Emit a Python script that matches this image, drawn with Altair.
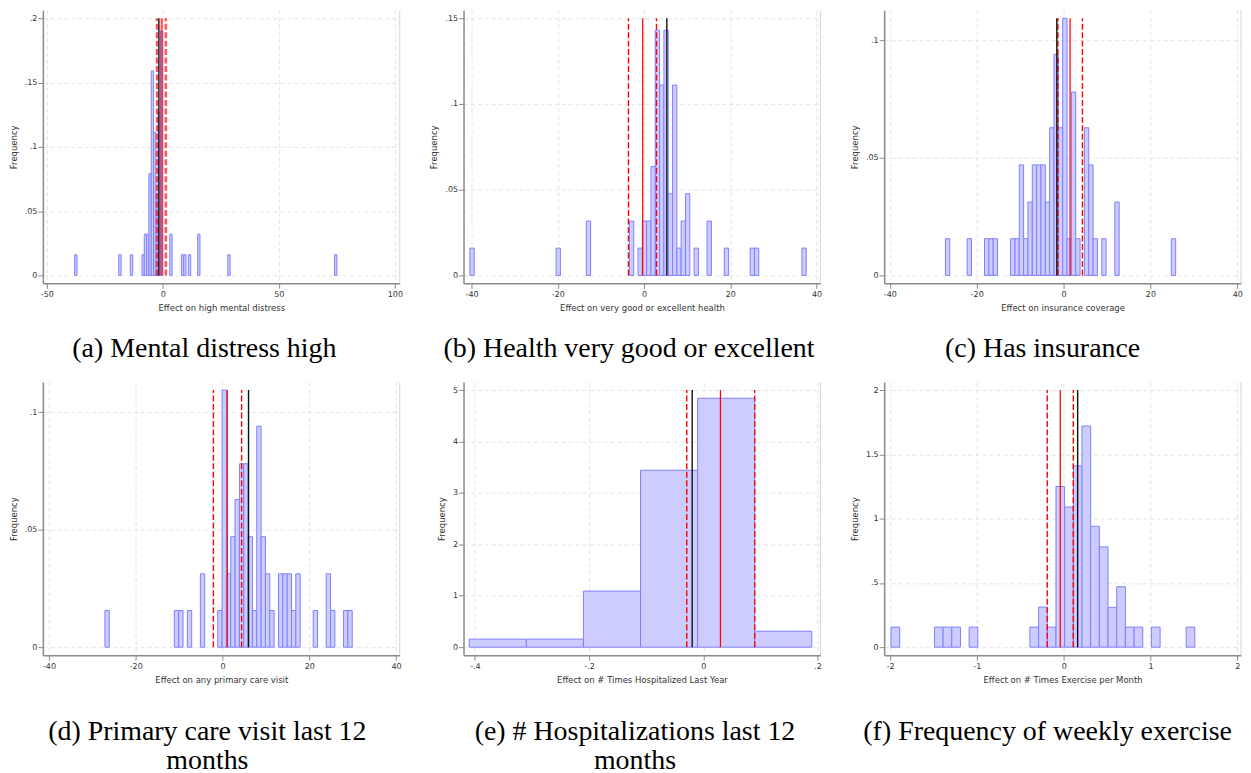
import altair as alt
import pandas as pd

# ---------------- data ----------------
# (a) Mental distress high
a_left = [-38, -19, -14, -9, -8, -7, -6, -5, -4, -3, -2, -1, 3, 8, 9, 11, 15, 28, 74]
a_height = [0.016, 0.016, 0.016, 0.016, 0.032, 0.032, 0.079, 0.159, 0.111, 0.063,
            0.127, 0.19, 0.032, 0.016, 0.016, 0.016, 0.032, 0.016, 0.016]
a_binw = 1.0
a_lines = {"black": -1.7, "red": -0.5, "lo": -2.5, "hi": 1.3}

# (b) Health very good or excellent
b_left = [-40.38, -20.38, -13.38, -3.38, -1.38, -0.38, 0.62, 1.62, 2.62, 3.62, 4.62,
          5.62, 6.62, 7.62, 8.62, 9.62, 11.62, 14.62, 18.62, 24.62, 25.62, 36.62]
b_height = [0.0159, 0.0159, 0.0317, 0.0317, 0.0159, 0.0317, 0.0317, 0.0635, 0.143,
            0.111, 0.143, 0.0476, 0.111, 0.0159, 0.0317, 0.0476, 0.0159, 0.0317,
            0.0159, 0.0159, 0.0159, 0.0159]
b_binw = 1.0
b_lines = {"black": 5.3, "red": -0.3, "lo": -3.6, "hi": 2.9}

# (c) Has insurance
c_left = [-27.2, -22.2, -18.2, -17.2, -16.2, -12.2, -11.2, -10.2, -9.2, -8.2, -7.2,
          -6.2, -5.2, -4.2, -3.2, -2.2, -1.2, -0.2, 0.8, 1.8, 2.8, 4.8, 5.8, 6.8,
          8.8, 11.8, 24.8]
c_height = [0.0156, 0.0156, 0.0156, 0.0156, 0.0156, 0.0156, 0.0156, 0.047, 0.0156,
            0.0312, 0.047, 0.047, 0.047, 0.0312, 0.0628, 0.094, 0.0628, 0.1094,
            0.0156, 0.078, 0.0156, 0.0628, 0.047, 0.0156, 0.0156, 0.0312, 0.0156]
c_binw = 1.0
c_lines = {"black": -1.55, "red": 1.5, "lo": -1.3, "hi": 4.35}

# (d) Primary care visit last 12 months
d_left = [-27.1, -11.1, -10.1, -8.1, -5.1, -1.1, -0.1, 0.9, 1.9, 2.9, 3.9, 4.9, 5.9,
          6.9, 7.9, 8.9, 9.9, 10.9, 12.9, 13.9, 14.9, 15.9, 16.9, 20.9, 23.9, 24.9,
          27.9, 28.9]
d_height = [0.0156, 0.0156, 0.0156, 0.0156, 0.0312, 0.0156, 0.1094, 0.0312, 0.047,
            0.0628, 0.078, 0.078, 0.047, 0.0156, 0.094, 0.047, 0.0312, 0.0156,
            0.0312, 0.0312, 0.0312, 0.0156, 0.0312, 0.0156, 0.0312, 0.0156, 0.0156,
            0.0156]
d_binw = 1.0
d_lines = {"black": 6.0, "red": 1.1, "lo": -2.1, "hi": 4.4}

# (e) # Hospitalizations last 12 months
e_left = [-0.41, -0.31, -0.21, -0.11, -0.01, 0.09]
e_height = [0.156, 0.156, 1.09, 3.44, 4.84, 0.31]
e_binw = 0.1
e_lines = {"black": -0.0195, "red": 0.030, "lo": -0.029, "hi": 0.090}

# (f) Frequency of weekly exercise
f_left = [-1.99, -1.49, -1.39, -1.29, -1.09, -0.39, -0.29, -0.19, -0.09, 0.01, 0.11,
          0.21, 0.31, 0.41, 0.51, 0.61, 0.71, 0.81, 1.01, 1.41]
f_height = [0.156, 0.156, 0.156, 0.156, 0.156, 0.156, 0.312, 0.156, 1.25, 1.09, 1.41,
            1.72, 0.94, 0.78, 0.31, 0.47, 0.156, 0.156, 0.156, 0.156]
f_binw = 0.1
f_lines = {"black": 0.16, "red": -0.04, "lo": -0.19, "hi": 0.11}

x_titles = ["Effect on high mental distress", "Effect on very good or excellent health",
            "Effect on insurance coverage", "Effect on any primary care visit",
            "Effect on # Times Hospitalized Last Year", "Effect on # Times Exercise per Month"]
captions = ["(a) Mental distress high", "(b) Health very good or excellent",
            "(c) Has insurance", ["(d) Primary care visit last 12", "months"],
            ["(e) # Hospitalizations last 12", "months"], "(f) Frequency of weekly exercise"]
x_ticks = [[-50, 0, 50, 100], [-40, -20, 0, 20, 40], [-40, -20, 0, 20, 40],
           [-40, -20, 0, 20, 40], [-0.4, -0.2, 0, 0.2], [-2, -1, 0, 1, 2]]
y_ticks = [[0, 0.05, 0.1, 0.15, 0.2], [0, 0.05, 0.1, 0.15], [0, 0.05, 0.1],
           [0, 0.05, 0.1], [0, 1, 2, 3, 4, 5], [0, 0.5, 1, 1.5, 2]]
y_tops = [0.2, 0.15, 0.1094, 0.1094, 5, 2]
x_domains = [[-51.7, 102.1], [-41.85, 40.9], [-41.3, 40.85], [-41.4, 40.85],
             [-0.42, 0.205], [-2.069, 2.042]]

# ---------------- styling ----------------
W, H = 358, 274
SANS = "DejaVu Sans"
LBL = ("datum.value == 0 ? '0' : (abs(datum.value) < 1 ? "
       "(datum.value < 0 ? '-' : '') + slice(toString(abs(datum.value)), 1) : toString(datum.value))")
cap_dx = [-17, -13, -20, -14, -7, -15]
cap_offset = [23, 23, 23, 35, 35, 35]
red_w = [2.6, 1.4, 1.4, 1.4, 1.4, 1.4]
red_op = [0.65, 1, 1, 1, 1, 1]


def panel(i, lefts, heights, binw, lines):
    bars = pd.DataFrame({"x0": lefts, "h": heights})
    bars["x1"] = bars["x0"] + binw
    top = y_tops[i]
    pad = 8 * top / (H - 16)
    xs = alt.Scale(domain=x_domains[i], nice=False, zero=False)
    ys = alt.Scale(domain=[-pad, top + pad], nice=False, zero=False)
    common = dict(grid=True, gridDash=[4, 3], gridColor="#e4e4e4", gridWidth=1,
                  tickSize=5, tickColor="#8a8a8a", domainColor="#8a8a8a", domainWidth=1.5,
                  labelFont=SANS, labelFontSize=8, labelColor="#333333",
                  titleFont=SANS, titleFontSize=8.5, titleFontWeight="normal",
                  titleColor="#333333", labelExpr=LBL, labelOverlap=False, labelFlush=False)
    xaxis = alt.Axis(values=x_ticks[i], title=x_titles[i], labelPadding=2, titlePadding=5,
                     **common)
    yaxis = alt.Axis(values=y_ticks[i], title="Frequency", labelPadding=1, titlePadding=6,
                     labelAngle=0, **common)
    hist = alt.Chart(bars).mark_rect(fill="#ccccff", stroke="#7f7fff", strokeWidth=1).encode(
        x=alt.X("x0:Q", scale=xs, axis=xaxis),
        x2="x1:Q",
        y=alt.Y("h:Q", scale=ys, axis=yaxis),
        y2=alt.datum(0),
    )
    ldf = pd.DataFrame({"x": [lines["black"], lines["red"], lines["lo"], lines["hi"]],
                        "kind": ["black", "red", "dash", "dash"]})
    dashed = alt.Chart(ldf).transform_filter("datum.kind == 'dash'").mark_rule(
        color="#ff0000", strokeWidth=red_w[i], strokeDash=[6, 2.5], opacity=red_op[i]
    ).encode(x=alt.X("x:Q", scale=xs), y=alt.datum(0), y2=alt.datum(top))
    red = alt.Chart(ldf).transform_filter("datum.kind == 'red'").mark_rule(
        color="#ff0000", strokeWidth=red_w[i] * 0.9, opacity=red_op[i]
    ).encode(x=alt.X("x:Q", scale=xs), y=alt.datum(0), y2=alt.datum(top))
    black = alt.Chart(ldf).transform_filter("datum.kind == 'black'").mark_rule(
        color="#111111", strokeWidth=1.4
    ).encode(x=alt.X("x:Q", scale=xs), y=alt.datum(0), y2=alt.datum(top))
    frame = alt.Chart(ldf).transform_filter("datum.kind == 'black'").mark_rule(
        color="#d6d6d6", strokeWidth=1
    ).encode(x=alt.value(W), y=alt.value(0), y2=alt.value(H))
    return alt.layer(hist, dashed, red, black, frame).properties(
        width=W, height=H,
        title=alt.TitleParams(text=captions[i], orient="bottom", anchor="middle",
                              font="Liberation Serif", fontSize=28, fontWeight="normal",
                              color="black", offset=cap_offset[i], dx=cap_dx[i],
                              lineHeight=29, baseline="top"),
    )


panels = [
    panel(0, a_left, a_height, a_binw, a_lines),
    panel(1, b_left, b_height, b_binw, b_lines),
    panel(2, c_left, c_height, c_binw, c_lines),
    panel(3, d_left, d_height, d_binw, d_lines),
    panel(4, e_left, e_height, e_binw, e_lines),
    panel(5, f_left, f_height, f_binw, f_lines),
]

chart = alt.concat(*panels, columns=3, spacing={"row": 99, "column": 64},
                   bounds="flush").properties(
    padding={"left": 1, "top": 0, "right": 0, "bottom": 0},
    background="white",
).configure_view(stroke=None)

chart.save("out.html", embed_options={"renderer": "svg", "actions": False})
